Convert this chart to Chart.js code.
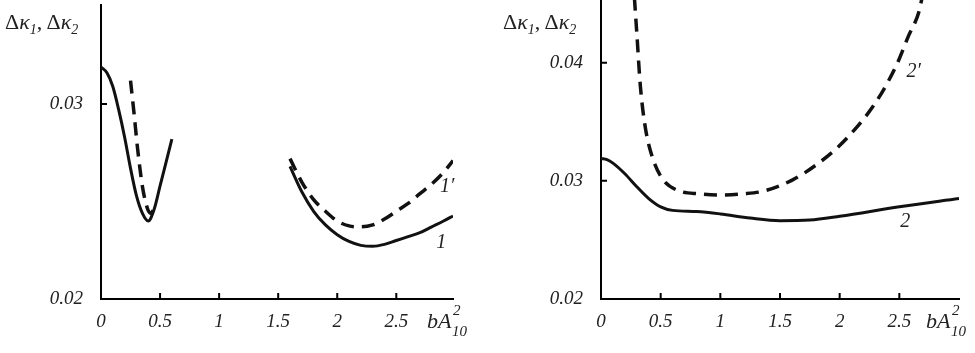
<!DOCTYPE html>
<html>
<head>
<meta charset="utf-8">
<script src="https://cdn.jsdelivr.net/npm/chart.js@4.4.1/dist/chart.umd.min.js"></script>
<style>
  html, body { margin: 0; padding: 0; background: #fff; }
  #wrap { position: relative; width: 975px; height: 353px; overflow: hidden; font-family: "Liberation Serif", "DejaVu Serif", serif; color: #222; }
  canvas { position: absolute; top: 0; }
  .t { position: absolute; white-space: nowrap; }
  .ytitle { font-size: 22px; line-height: 22px; }
  .ytitle i { font-style: italic; }
  .ytitle sub { font-size: 14px; font-style: italic; vertical-align: -5px; line-height: 0; }
  .bA { font-size: 22px; line-height: 22px; font-style: italic; }
  .idx { font-size: 15px; line-height: 15px; font-style: italic; }
</style>
</head>
<body>
<div id="wrap">
  <canvas id="left" width="487" height="353" style="left:0"></canvas>
  <canvas id="right" width="488" height="353" style="left:487px"></canvas>

  <div class="t ytitle" style="left:5px; top:11px">Δ<i>κ</i><sub>1</sub>, Δ<i>κ</i><sub>2</sub></div>
  <div class="t bA" style="left:427px; top:310px">bA</div>
  <div class="t idx" style="left:453px; top:303px">2</div>
  <div class="t idx" style="left:452px; top:324px">10</div>

  <div class="t ytitle" style="left:503px; top:11px">Δ<i>κ</i><sub>1</sub>, Δ<i>κ</i><sub>2</sub></div>
  <div class="t bA" style="left:926px; top:310px">bA</div>
  <div class="t idx" style="left:952px; top:303px">2</div>
  <div class="t idx" style="left:951px; top:324px">10</div>
</div>
<script>
  // ---------- data ----------
  const xTicks = [0, 0.5, 1, 1.5, 2, 2.5];
  const yTicksLeft = [0.02, 0.03];
  const yTicksRight = [0.02, 0.03, 0.04];

  // left panel, curve 1 (solid) and 1' (dashed), two branches each
  const x1a = [0, 0.05, 0.1, 0.15, 0.2, 0.25, 0.3, 0.35, 0.4, 0.45, 0.5, 0.55, 0.6];
  const k1a = [0.0319, 0.0316, 0.0309, 0.0297, 0.0283, 0.0267, 0.0253, 0.0244, 0.0240, 0.0246, 0.0258, 0.0270, 0.0282];
  const x1pa = [0.25, 0.28, 0.31, 0.35, 0.39, 0.42, 0.46];
  const k1pa = [0.0312, 0.0295, 0.0277, 0.0258, 0.0247, 0.0244, 0.0248];

  const x1b = [1.6, 1.7, 1.8, 1.9, 2.0, 2.1, 2.2, 2.3, 2.4, 2.5, 2.6, 2.7, 2.8, 2.9, 2.98];
  const k1b = [0.0268, 0.0255, 0.0245, 0.0238, 0.0233, 0.02295, 0.02275, 0.0227, 0.0228, 0.0230, 0.0232, 0.0234, 0.0237, 0.0240, 0.02426];
  const x1pb = [1.6, 1.7, 1.8, 1.9, 2.0, 2.1, 2.2, 2.3, 2.4, 2.5, 2.6, 2.7, 2.8, 2.9, 2.98];
  const k1pb = [0.0272, 0.0260, 0.0251, 0.0245, 0.0240, 0.02375, 0.0237, 0.0238, 0.0241, 0.0245, 0.0249, 0.0254, 0.0259, 0.0265, 0.0271];

  // right panel, curve 2 (solid) and 2' (dashed)
  const x2 = [0, 0.05, 0.1, 0.2, 0.3, 0.4, 0.5, 0.6, 0.8, 1.0, 1.25, 1.5, 1.75, 2.0, 2.5, 3.0];
  const k2 = [0.0319, 0.0318, 0.0315, 0.0306, 0.0295, 0.0285, 0.0278, 0.0275, 0.0274, 0.0272, 0.02685, 0.02663, 0.02668, 0.0270, 0.0278, 0.0285];
  const x2p = [0.28, 0.30, 0.33, 0.37, 0.43, 0.52, 0.64, 0.83, 1.0, 1.2, 1.37, 1.61, 1.81, 1.98, 2.14, 2.28, 2.39, 2.49, 2.57, 2.67, 2.69];
  const k2p = [0.0455, 0.0425, 0.0380, 0.0346, 0.0320, 0.0301, 0.0292, 0.0289, 0.0288, 0.0289, 0.02915, 0.0301, 0.0314, 0.0328, 0.0345, 0.0363, 0.0381, 0.0401, 0.0421, 0.0445, 0.0455];

  // curve labels
  const labelsLeft = [{ text: "1′", x: 2.93, y: 0.02574 }, { text: "1", x: 2.88, y: 0.02287 }];
  const labelsRight = [{ text: "2′", x: 2.62, y: 0.03924 }, { text: "2", x: 2.55, y: 0.02653 }];

  // ---------- helpers ----------
  const pts = (xs, ys) => xs.map((x, i) => ({ x, y: ys[i] }));

  const solid = (data) => ({ data, borderColor: '#111', borderWidth: 3, pointRadius: 0, fill: false, cubicInterpolationMode: 'monotone' });
  const dashed = (data) => ({ data, borderColor: '#111', borderWidth: 3.5, borderDash: [13, 8], pointRadius: 0, fill: false, cubicInterpolationMode: 'monotone' });

  const tickFont = { family: 'Liberation Serif', style: 'italic', size: 19 };

  // inward tick marks + curve labels
  const innerTicks = {
    id: 'innerTicks',
    afterDraw(chart, args, opts) {
      const { ctx, scales: { x, y } } = chart;
      ctx.save();
      ctx.strokeStyle = '#000';
      ctx.lineWidth = 2;
      ctx.beginPath();
      x.ticks.forEach(t => {
        if (t.value === x.min) return;
        const px = x.getPixelForValue(t.value);
        ctx.moveTo(px, y.bottom);
        ctx.lineTo(px, y.bottom - 6);
      });
      y.ticks.forEach(t => {
        if (t.value === y.min) return;
        const py = y.getPixelForValue(t.value);
        ctx.moveTo(x.left, py);
        ctx.lineTo(x.left + 6, py);
      });
      ctx.stroke();

      ctx.font = 'italic 20px "Liberation Serif"';
      ctx.fillStyle = '#222';
      ctx.textAlign = 'center';
      ctx.textBaseline = 'middle';
      (opts.labels || []).forEach(l => ctx.fillText(l.text, x.getPixelForValue(l.x), y.getPixelForValue(l.y)));
      ctx.restore();
    }
  };

  let makeChart = (id, datasets, xMax, yTicks, yMax, yWidth, padRight, padTop, labels) => {
    return new Chart(document.getElementById(id).getContext('2d'), {
      type: 'line',
      data: { datasets },
      plugins: [innerTicks],
      options: {
        responsive: false,
        animation: false,
        devicePixelRatio: 1,
        layout: { padding: { left: 0, right: padRight, top: padTop, bottom: 0 } },
        plugins: {
          legend: { display: false },
          tooltip: { enabled: false },
          innerTicks: { labels }
        },
        scales: {
          x: {
            type: 'linear',
            min: 0,
            max: xMax,
            afterBuildTicks: s => { s.ticks = xTicks.map(v => ({ value: v })); },
            afterFit: s => { s.height = 54; s.paddingLeft = 0; s.paddingRight = 0; },
            ticks: { color: '#222', font: tickFont, padding: 12, maxRotation: 0, autoSkip: false, callback: v => String(v) },
            grid: { display: true, drawOnChartArea: false, drawTicks: false },
            border: { color: '#000', width: 2 }
          },
          y: {
            type: 'linear',
            min: 0.02,
            max: yMax,
            afterBuildTicks: s => { s.ticks = yTicks.map(v => ({ value: v })); },
            afterFit: s => { s.width = yWidth; s.paddingTop = 0; s.paddingBottom = 0; },
            ticks: { color: '#222', font: tickFont, padding: 18, callback: v => String(v) },
            grid: { display: true, drawOnChartArea: false, drawTicks: false },
            border: { color: '#000', width: 2 }
          }
        }
      }
    });
  };

  makeChart('left', [
    solid(pts(x1a, k1a)),
    dashed(pts(x1pa, k1pa)),
    solid(pts(x1b, k1b)),
    dashed(pts(x1pb, k1pb))
  ], 2.98, yTicksLeft, 0.03508, 101, 34, 5, labelsLeft);

  makeChart('right', [
    solid(pts(x2, k2)),
    dashed(pts(x2p, k2p))
  ], 3.0, yTicksRight, 0.0453, 114, 16, 0, labelsRight);
</script>
</body>
</html>
